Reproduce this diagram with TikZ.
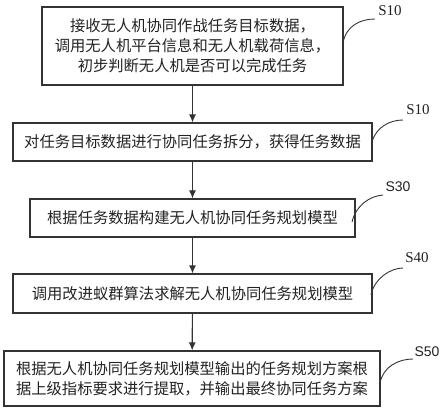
\documentclass[tikz,border=0pt]{standalone}
\usepackage{fontspec}
\newfontfamily\cjk{Noto Sans CJK SC}
\newfontfamily\lserif{Liberation Serif}
\newfontfamily\lsans{Liberation Sans}
\usetikzlibrary{arrows.meta}
\definecolor{ln}{HTML}{333333}
\definecolor{tx}{HTML}{222222}
\tikzset{
  stepbox/.style={draw=ln, line width=1.1pt, inner sep=0pt, align=center, text=tx,
    font=\cjk\fontsize{15.3}{20}\selectfont},
  flow/.style={draw=ln, line width=1.1pt, -{Latex[length=8pt,width=7pt]}},
  lead/.style={draw=ln, line width=0.9pt},
  lab/.style={text=tx, inner sep=0pt, font=\fontsize{15}{15}\selectfont}
}
\begin{document}
\begin{tikzpicture}[x=1pt,y=-1pt]
\useasboundingbox (0,0) rectangle (443,411);
\node[stepbox, minimum width=301pt, minimum height=78pt] (b1) at (192.5,46)
  {接收无人机协同作战任务目标数据，\\调用无人机平台信息和无人机载荷信息，\\初步判断无人机是否可以完成任务};
\node[stepbox, minimum width=359pt, minimum height=38pt] (b2) at (192.5,142)
  {对任务目标数据进行协同任务拆分，获得任务数据};
\node[stepbox, minimum width=325pt, minimum height=38pt] (b3) at (192.5,218)
  {根据任务数据构建无人机协同任务规划模型};
\node[stepbox, minimum width=359pt, minimum height=39pt] (b4) at (192.5,293.5)
  {调用改进蚁群算法求解无人机协同任务规划模型};
\node[stepbox, minimum width=376pt, minimum height=55pt] (b5) at (192,378.5)
  {根据无人机协同任务规划模型输出的任务规划方案根\\据上级指标要求进行提取，并输出最终协同任务方案};
\draw[flow] (b1) -- (b2);
\draw[flow] (b2) -- (b3);
\draw[flow] (b3) -- (b4);
\draw[flow] (b4) -- (b5);
% labels
\node[lab, font=\lserif\fontsize{15}{15}\selectfont] (s1) at (390,11) {S10};
\node[lab, font=\lserif\fontsize{15}{15}\selectfont] (s2) at (418,110) {S10};
\node[lab, font=\lsans\fontsize{14}{14}\selectfont] (s3) at (398,187) {S30};
\node[lab, font=\lserif\fontsize{15}{15}\selectfont] (s4) at (417,258) {S40};
\node[lab, font=\lsans\fontsize{14}{14}\selectfont] (s5) at (427,352) {S50};
\coordinate (c1) at (343,43);
\coordinate (c2) at (372,142);
\coordinate (c3) at (352,222);
\coordinate (c4) at (371,295);
\coordinate (c5) at (380,383);
\draw[lead] (c1) .. controls (346,26) and (360,19) .. (375,19);
\draw[lead] (c2) .. controls (376,127) and (390,120) .. (403,120);
\draw[lead] (c3) .. controls (356,205) and (370,196) .. (383,195);
\draw[lead] (c4) .. controls (374,279) and (390,268) .. (403,268);
\draw[lead] (c5) .. controls (383,367) and (398,359) .. (413,359);
\end{tikzpicture}
\end{document}
